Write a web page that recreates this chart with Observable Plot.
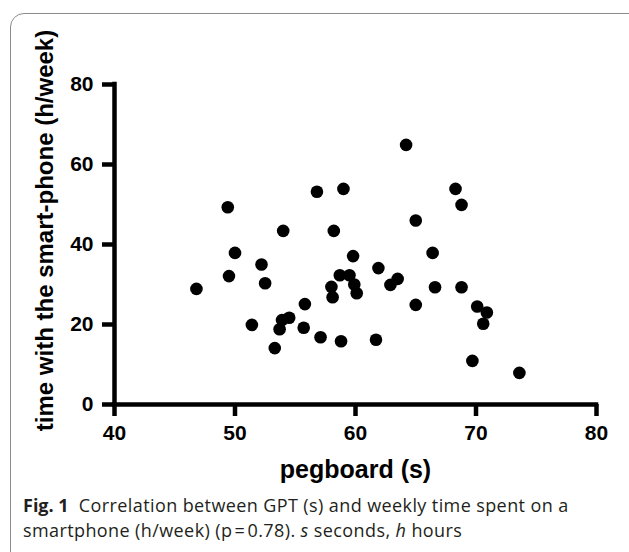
<!DOCTYPE html>
<html>
<head>
<meta charset="utf-8">
<script src="https://cdn.jsdelivr.net/npm/d3@7"></script>
<script src="https://cdn.jsdelivr.net/npm/@observablehq/plot@0.6"></script>
<style>
  html, body { margin: 0; padding: 0; background: #fff; width: 629px; height: 552px; overflow: hidden; }
  #frame { position: absolute; left: 10px; top: 13px; width: 660px; height: 620px; border: 1px solid #8c8c8c; border-radius: 14px; box-sizing: border-box; }
  #chart { position: absolute; left: 0; top: 0; }
  #caption { position: absolute; left: 23px; top: 493px; font-family: "Open Sans", sans-serif; font-size: 18px; line-height: 24.5px; color: #231f20; white-space: nowrap; letter-spacing: 0.4px; }
  #caption b { font-weight: 700; letter-spacing: 0; }
</style>
</head>
<body>
<div id="frame"></div>
<div id="chart"></div>
<div id="caption"><b>Fig. 1</b>&nbsp; Correlation between GPT (s) and weekly time spent on a<br>smartphone (h/week) (p&#8202;=&#8202;0.78). <i>s</i> seconds, <i>h</i> hours</div>
<script>
// pegboard time (s)
const pegboard = [46.8, 49.4, 49.5, 50.0, 51.4, 52.2, 52.5, 53.3, 53.7, 53.9, 54.5, 54.0, 55.7, 55.8, 56.8, 57.1, 58.2, 58.0, 58.1, 58.8, 59.0, 58.7, 59.5, 59.8, 59.9, 60.1, 64.2, 68.3, 68.8, 65.0, 66.4, 61.9, 63.5, 62.9, 66.6, 68.8, 65.0, 70.1, 70.9, 70.6, 61.7, 69.7, 73.6];
// time with the smart-phone (h/week)
const phoneTime = [28.9, 49.3, 32.1, 37.9, 19.9, 35.0, 30.3, 14.1, 18.8, 21.1, 21.7, 43.4, 19.2, 25.1, 53.2, 16.8, 43.4, 29.4, 26.8, 15.8, 53.9, 32.3, 32.3, 37.1, 30.0, 27.8, 64.9, 53.9, 49.9, 46.0, 37.9, 34.1, 31.4, 29.9, 29.3, 29.3, 24.9, 24.5, 23.0, 20.2, 16.2, 10.9, 7.9];
const xTicks = [40, 50, 60, 70, 80];
const yTicks = [0, 20, 40, 60, 80];
const xTitle = "pegboard (s)";
const yTitle = "time with the smart-phone (h/week)";

const data = pegboard.map((x, i) => ({x, y: phoneTime[i]}));

const chart = Plot.plot({
  width: 629,
  height: 488,
  marginLeft: 114,
  marginRight: 33,
  marginTop: 84,
  marginBottom: 84,
  style: {fontFamily: "'Liberation Sans', Arial, sans-serif", background: "transparent"},
  x: {domain: [40, 80]},
  y: {domain: [0, 80]},
  marks: [
    Plot.axisX({ticks: xTicks, tickSize: 12, tickPadding: 9, strokeWidth: 4.5, fontSize: 21, fontWeight: "bold", fill: "#000", label: null}),
    Plot.axisY({ticks: yTicks, tickSize: 12, tickPadding: 9, strokeWidth: 4.5, fontSize: 21, fontWeight: "bold", fill: "#000", label: null}),
    Plot.ruleY([0], {x1: 40, x2: 80, stroke: "#000", strokeWidth: 4.5, strokeLinecap: "square"}),
    Plot.ruleX([40], {y1: 0, y2: 80, stroke: "#000", strokeWidth: 4.5, strokeLinecap: "square"}),
    Plot.dot(data, {x: "x", y: "y", r: 6.3, fill: "#000", stroke: null}),
    Plot.text([xTitle], {frameAnchor: "bottom", dy: 65, fontSize: 25, fontWeight: "bold", fill: "#000", textAnchor: "middle", lineAnchor: "middle"}),
    Plot.text([yTitle], {frameAnchor: "left", rotate: -90, dx: -69, dy: -14, fontSize: 24, fontWeight: "bold", fill: "#000", textAnchor: "middle", lineAnchor: "middle"})
  ]
});
document.getElementById("chart").appendChild(chart);
</script>
</body>
</html>
